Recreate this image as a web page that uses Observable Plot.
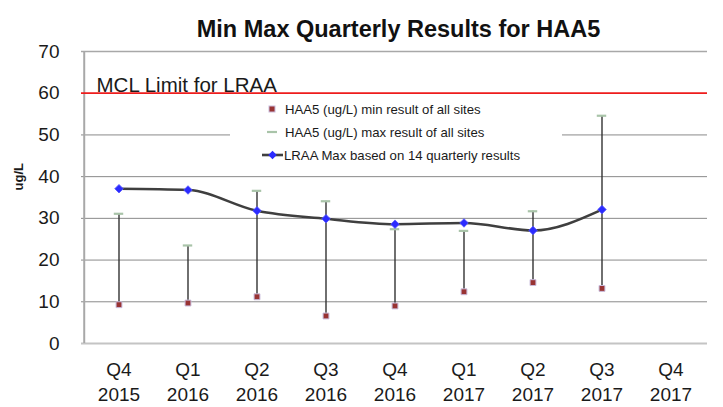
<!DOCTYPE html>
<html>
<head>
<meta charset="utf-8">
<script src="https://cdn.jsdelivr.net/npm/d3@7"></script>
<script src="https://cdn.jsdelivr.net/npm/@observablehq/plot@0.6"></script>
<style>
  html, body { margin: 0; padding: 0; background: #fff; }
  #chart { width: 723px; height: 407px; }
</style>
</head>
<body>
<div id="chart"></div>
<script>
const categories = ["Q4 2015", "Q1 2016", "Q2 2016", "Q3 2016", "Q4 2016", "Q1 2017", "Q2 2017", "Q3 2017", "Q4 2017"];
const minValues  = [9.3, 9.7, 11.2, 6.6, 9.0, 12.4, 14.6, 13.2, null];
const maxValues  = [31.1, 23.5, 36.6, 34.1, 27.4, 27.0, 31.7, 54.6, null];
const lraaValues = [37.1, 36.8, 31.8, 29.9, 28.6, 28.9, 27.1, 32.1, null];
const mclLimit = 60;
const yTicks = [0, 10, 20, 30, 40, 50, 60, 70];
const gridTicks = [10, 20, 30, 40, 50];
const titleText = "Min Max Quarterly Results for HAA5";
const mclText = "MCL Limit for LRAA";
const yLabel = "ug/L";
const legendLabels = [
  "HAA5 (ug/L) min result of all sites",
  "HAA5 (ug/L) max result of all sites",
  "LRAA Max based on 14 quarterly results"
];

const rows = categories.map((c, i) => ({cat: c, min: minValues[i], max: maxValues[i], lraa: lraaValues[i]}))
  .filter(d => d.min != null);

const W = 723, H = 407, mL = 81, mR = 16, mT = 51, mB = 64;
const bw = (W - mL - mR) / categories.length;
const font = "'Liberation Sans', Arial, sans-serif";

const plot = Plot.plot({
  width: W, height: H,
  marginLeft: mL, marginRight: mR, marginTop: mT, marginBottom: mB,
  style: {fontFamily: font, background: "#fff", color: "#1a1a1a"},
  x: {type: "band", domain: categories, padding: 0},
  y: {domain: [0, 70]},
  marks: [
    Plot.gridY(gridTicks, {stroke: "#8a8a8a", strokeOpacity: 1, strokeWidth: 1}),
    Plot.ruleY([70], {stroke: "#a8a8a8", strokeWidth: 1.5}),
    Plot.ruleY([0], {stroke: "#c4c4c4", strokeWidth: 2}),
    Plot.ruleX([categories[0]], {dx: -bw / 2, stroke: "#a8a8a8", strokeWidth: 2}),
    Plot.ruleY([mclLimit], {stroke: "#ee1c1c", strokeWidth: 1.8}),
    Plot.text([mclText], {y: [mclLimit], frameAnchor: "left", textAnchor: "start", lineAnchor: "bottom", dx: 15, dy: -1, fontSize: 20.5, fill: "#1a1a1a"}),
    Plot.axisY(yTicks, {tickSize: 0, tickPadding: 22, fontSize: 19, label: null, fill: "#1a1a1a"}),
    Plot.axisX({tickSize: 0, tickPadding: 15, fontSize: 19, lineHeight: 1.32, label: null, fill: "#1a1a1a",
      tickFormat: d => d.replace(" ", "\n")}),
    Plot.text([yLabel], {frameAnchor: "left", dx: -63, dy: -7, rotate: -90, fontSize: 13, fontWeight: "bold", fill: "#1a1a1a"}),
    Plot.text([titleText], {frameAnchor: "top", dx: 4, dy: -31, fontSize: 23.5, fontWeight: "bold", fill: "#111"}),
    Plot.ruleX(rows, {x: "cat", y1: "min", y2: "max", stroke: "#333", strokeWidth: 1.4}),
    Plot.tickY(rows, {x: "cat", y: "max", stroke: "#a9c4a9", strokeWidth: 2.2, insetLeft: bw / 2 - 5, insetRight: bw / 2 - 5}),
    Plot.dot(rows, {x: "cat", y: "min", symbol: "square", r: 3.3, fill: "#993333", stroke: "#c9bcdc", strokeWidth: 1}),
    Plot.line(rows, {x: "cat", y: "lraa", curve: "monotone-x", stroke: "#3f3f3f", strokeWidth: 2.6}),
    Plot.dot(rows, {x: "cat", y: "lraa", symbol: "square", r: 3.4, rotate: 45, fill: "#2b2bff", stroke: "#5a5aff", strokeWidth: 0.8})
  ]
});

document.getElementById("chart").appendChild(plot);

// legend drawn inside the plot area
const svg = d3.select(plot);
const lg = svg.append("g").attr("font-family", font).attr("font-size", 13.2).attr("fill", "#1a1a1a").attr("text-anchor", "start");
lg.append("rect").attr("x", 230).attr("y", 97).attr("width", 332).attr("height", 70).attr("fill", "#fff");
const rowsY = [109, 132, 155];
const textX = 285;
// row 1: min marker
lg.append("rect").attr("x", 269).attr("y", rowsY[0] - 3).attr("width", 6).attr("height", 6)
  .attr("fill", "#993333").attr("stroke", "#c9bcdc").attr("stroke-width", 1);
// row 2: max cap
lg.append("line").attr("x1", 267).attr("x2", 277).attr("y1", rowsY[1]).attr("y2", rowsY[1])
  .attr("stroke", "#a9c4a9").attr("stroke-width", 2.2);
// row 3: line with diamond
lg.append("line").attr("x1", 262).attr("x2", 283).attr("y1", rowsY[2]).attr("y2", rowsY[2])
  .attr("stroke", "#3f3f3f").attr("stroke-width", 2.6);
lg.append("rect").attr("x", -3).attr("y", -3).attr("width", 6).attr("height", 6)
  .attr("transform", `translate(272.5,${rowsY[2]}) rotate(45)`).attr("fill", "#2b2bff");
legendLabels.forEach((t, i) => {
  lg.append("text").attr("x", i === 2 ? 284 : textX).attr("y", rowsY[i]).attr("dy", "0.35em").text(t);
});
</script>
</body>
</html>
